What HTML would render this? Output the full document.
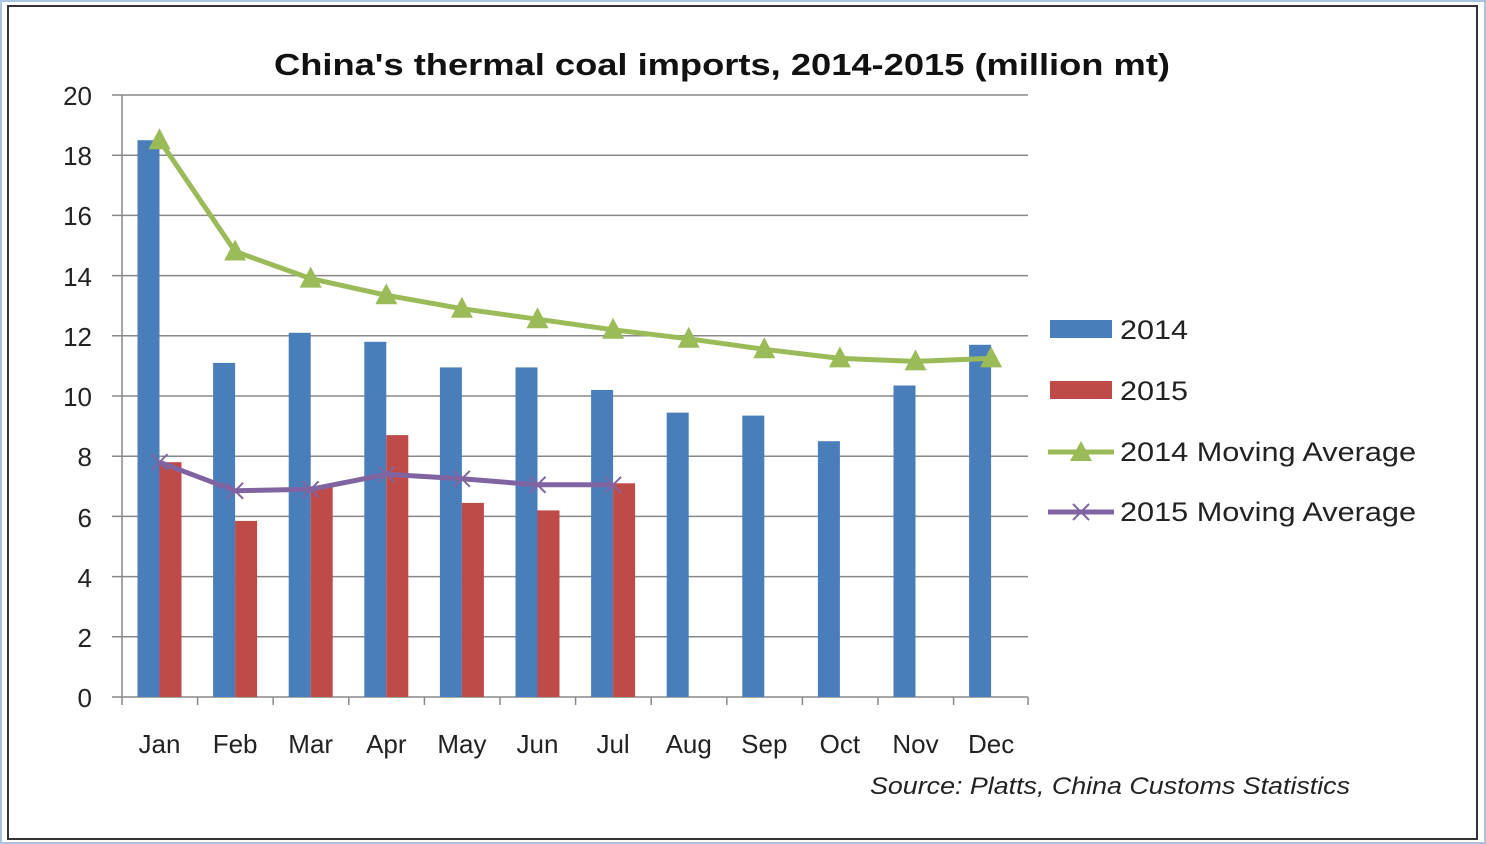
<!DOCTYPE html><html><head><style>body{margin:0;background:#fff}svg{display:block}</style></head><body>
<svg width="1486" height="844" xmlns="http://www.w3.org/2000/svg" font-family="'Liberation Sans',sans-serif">
<defs>
<marker id="tri" markerUnits="userSpaceOnUse" markerWidth="24" markerHeight="24" refX="12" refY="13" viewBox="0 0 24 24"><polygon points="1,22 23,22 12,1" fill="#9bbb59"/></marker>
<marker id="x" markerUnits="userSpaceOnUse" markerWidth="20" markerHeight="20" refX="10" refY="10" viewBox="0 0 20 20"><path d="M2 2L18 18M18 2L2 18" stroke="#8064a2" stroke-width="2"/></marker>
</defs>
<rect x="0" y="0" width="1486" height="844" fill="#fff"/>
<rect x="1" y="1" width="1484" height="842" fill="none" stroke="#a9c3e0" stroke-width="2"/>
<rect x="8" y="6" width="1469" height="833" fill="none" stroke="#333" stroke-width="2"/>
<text x="274" y="75" textLength="896" lengthAdjust="spacingAndGlyphs" font-size="31" font-weight="bold" fill="#111">China's thermal coal imports, 2014-2015 (million mt)</text>
<g stroke="#888" stroke-width="1.5">
<line x1="112" x2="1028" y1="95" y2="95"/><line x1="112" x2="1028" y1="155.2" y2="155.2"/><line x1="112" x2="1028" y1="215.4" y2="215.4"/><line x1="112" x2="1028" y1="275.6" y2="275.6"/><line x1="112" x2="1028" y1="335.8" y2="335.8"/><line x1="112" x2="1028" y1="396" y2="396"/><line x1="112" x2="1028" y1="456.2" y2="456.2"/><line x1="112" x2="1028" y1="516.4" y2="516.4"/><line x1="112" x2="1028" y1="576.6" y2="576.6"/><line x1="112" x2="1028" y1="636.8" y2="636.8"/><line x1="112" x2="1028" y1="697" y2="697"/>
<line x1="122" x2="122" y1="95" y2="705"/>
<line x1="197.6" x2="197.6" y1="697" y2="705"/><line x1="273.2" x2="273.2" y1="697" y2="705"/><line x1="348.8" x2="348.8" y1="697" y2="705"/><line x1="424.4" x2="424.4" y1="697" y2="705"/><line x1="500" x2="500" y1="697" y2="705"/><line x1="575.6" x2="575.6" y1="697" y2="705"/><line x1="651.2" x2="651.2" y1="697" y2="705"/><line x1="726.8" x2="726.8" y1="697" y2="705"/><line x1="802.4" x2="802.4" y1="697" y2="705"/><line x1="878" x2="878" y1="697" y2="705"/><line x1="953.6" x2="953.6" y1="697" y2="705"/><line x1="1028" x2="1028" y1="697" y2="705"/>
</g>
<g fill="#222" font-size="26" text-anchor="end">
<text x="92" y="105">20</text><text x="92" y="165">18</text><text x="92" y="225">16</text><text x="92" y="286">14</text><text x="92" y="346">12</text><text x="92" y="406">10</text><text x="92" y="466">8</text><text x="92" y="527">6</text><text x="92" y="587">4</text><text x="92" y="647">2</text><text x="92" y="707">0</text>
</g>
<g fill="#4a7ebb">
<rect x="137.5" y="140.2" width="22" height="556.8"/>
<rect x="213.1" y="362.9" width="22" height="334.1"/>
<rect x="288.7" y="332.8" width="22" height="364.2"/>
<rect x="364.3" y="341.8" width="22" height="355.2"/>
<rect x="439.9" y="367.4" width="22" height="329.6"/>
<rect x="515.5" y="367.4" width="22" height="329.6"/>
<rect x="591.1" y="390" width="22" height="307"/>
<rect x="666.7" y="412.6" width="22" height="284.4"/>
<rect x="742.3" y="415.6" width="22" height="281.4"/>
<rect x="817.9" y="441.2" width="22" height="255.8"/>
<rect x="893.5" y="385.5" width="22" height="311.5"/>
<rect x="969.1" y="344.8" width="22" height="352.2"/>
</g>
<g fill="#be4b48">
<rect x="159.5" y="462.2" width="22" height="234.8"/>
<rect x="235.1" y="520.9" width="22" height="176.1"/>
<rect x="310.7" y="486.3" width="22" height="210.7"/>
<rect x="386.3" y="435.1" width="22" height="261.9"/>
<rect x="461.9" y="502.9" width="22" height="194.1"/>
<rect x="537.5" y="510.4" width="22" height="186.6"/>
<rect x="613.1" y="483.3" width="22" height="213.7"/>
</g>
<polyline points="159.5,140.2 235.1,251.5 310.7,278.6 386.3,295.2 461.9,308.7 537.5,319.2 613.1,329.8 688.7,338.8 764.3,349.3 839.9,358.4 915.5,361.4 991.1,358.4" fill="none" stroke="#9bbb59" stroke-width="5" stroke-linejoin="round" marker-start="url(#tri)" marker-mid="url(#tri)" marker-end="url(#tri)"/>
<polyline points="159.5,462.2 235.1,490.8 310.7,489.3 386.3,474.3 461.9,478.8 537.5,484.8 613.1,484.8" fill="none" stroke="#8064a2" stroke-width="5" stroke-linejoin="round" marker-start="url(#x)" marker-mid="url(#x)" marker-end="url(#x)"/>
<g font-size="26" text-anchor="middle" fill="#222">
<text x="159.5" y="753">Jan</text><text x="235.1" y="753">Feb</text><text x="310.7" y="753">Mar</text><text x="386.3" y="753">Apr</text><text x="461.9" y="753">May</text><text x="537.5" y="753">Jun</text><text x="613.1" y="753">Jul</text><text x="688.7" y="753">Aug</text><text x="764.3" y="753">Sep</text><text x="839.9" y="753">Oct</text><text x="915.5" y="753">Nov</text><text x="991.1" y="753">Dec</text>
</g>
<rect x="1050" y="320" width="62" height="18" fill="#4a7ebb"/>
<rect x="1050" y="381" width="62" height="18" fill="#be4b48"/>
<line x1="1048" x2="1114" y1="452" y2="452" stroke="#9bbb59" stroke-width="5"/>
<polygon points="1070,461 1092,461 1081,441" fill="#9bbb59"/>
<line x1="1048" x2="1114" y1="512" y2="512" stroke="#8064a2" stroke-width="5"/>
<path d="M1073 504L1089 520M1089 504L1073 520" stroke="#8064a2" stroke-width="2"/>
<g font-size="27" fill="#222">
<text x="1120" y="339" textLength="68" lengthAdjust="spacingAndGlyphs">2014</text><text x="1120" y="400" textLength="68" lengthAdjust="spacingAndGlyphs">2015</text>
<text x="1120" y="461" textLength="296" lengthAdjust="spacingAndGlyphs">2014 Moving Average</text><text x="1120" y="521" textLength="296" lengthAdjust="spacingAndGlyphs">2015 Moving Average</text>
</g>
<text x="870" y="794" textLength="480" lengthAdjust="spacingAndGlyphs" font-size="24" font-style="italic" fill="#222">Source: Platts, China Customs Statistics</text>
</svg>
</body></html>
